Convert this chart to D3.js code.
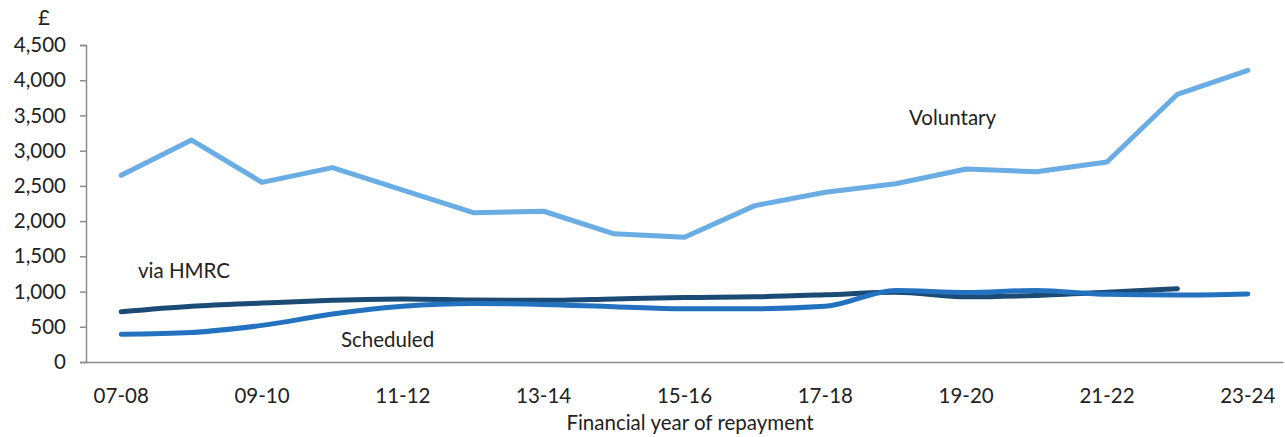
<!DOCTYPE html>
<html>
<head>
<meta charset="utf-8">
<script src="https://cdn.jsdelivr.net/npm/d3@7"></script>
<style>
  html, body { margin: 0; padding: 0; background: #fff; }
  svg { display: block; font-family: "Lato", "Open Sans", sans-serif; }
</style>
</head>
<body>
<svg id="chart" width="1285" height="437"></svg>
<script>
// Financial years of repayment
const years = ["07-08","08-09","09-10","10-11","11-12","12-13","13-14","14-15","15-16",
               "16-17","17-18","18-19","19-20","20-21","21-22","22-23","23-24"];

// Average repayment (£) by route
const voluntary = [2650, 3150, 2550, 2760, 2440, 2120, 2140, 1820, 1770,
                   2220, 2410, 2530, 2740, 2700, 2840, 3800, 4140];
const scheduled = [395, 420, 520, 680, 790, 830, 818, 785, 757,
                   757, 790, 1016, 985, 1016, 960, 950, 966];
const viaHMRC   = [712, 790, 836, 875, 895, 880, 875, 895, 915,
                   925, 954, 990, 925, 945, 990, 1040, null];

const yTicks = [0, 500, 1000, 1500, 2000, 2500, 3000, 3500, 4000, 4500];
const xLabelYears = years.filter((d, i) => i % 2 === 0);

const svg = d3.select("#chart");
const margin = { left: 86, right: 2, top: 45, bottom: 75 };
const W = 1285, H = 437;
const FS = 20.5;

const x = d3.scaleBand().domain(years).range([margin.left, W - margin.right]);
const y = d3.scaleLinear().domain([0, 4500]).range([H - margin.bottom, margin.top]);
const cx = d => x(d) + x.bandwidth() / 2;

// Y axis
const yAxis = svg.append("g")
  .attr("transform", `translate(${margin.left},0)`)
  .call(d3.axisLeft(y).tickValues(yTicks).tickSize(6).tickPadding(14)
        .tickFormat(d3.format(",")));
yAxis.selectAll("line, path").attr("stroke", "#8c8c8c").attr("stroke-width", 1.5);
yAxis.selectAll("text").attr("font-size", FS).attr("fill", "#222")
  .attr("font-family", "Lato, sans-serif");

// X axis (no tick marks, alternate labels)
const xAxis = svg.append("g")
  .attr("transform", `translate(0,${y(0)})`)
  .call(d3.axisBottom(x).tickValues(xLabelYears).tickSize(0).tickPadding(26));
xAxis.select("path").attr("stroke", "#8c8c8c").attr("stroke-width", 1.5);
xAxis.selectAll("text").attr("font-size", FS).attr("fill", "#222")
  .attr("font-family", "Lato, sans-serif");

// Unit label
svg.append("text").attr("x", 44).attr("y", 25).attr("text-anchor", "middle")
  .attr("font-size", FS).attr("fill", "#222").text("£");

// X axis title
svg.append("text").attr("x", 690).attr("y", 430)
  .attr("text-anchor", "middle").attr("font-size", FS).attr("fill", "#222")
  .text("Financial year of repayment");

// Series lines
const series = [
  { name: "Voluntary", values: voluntary, color: "#6aade4", curve: d3.curveLinear },
  { name: "via HMRC",  values: viaHMRC,   color: "#1b4a75", curve: d3.curveMonotoneX },
  { name: "Scheduled", values: scheduled, color: "#2372c0", curve: d3.curveMonotoneX }
];

series.forEach(s => {
  const line = d3.line()
    .defined(d => d.v != null)
    .x(d => cx(d.year))
    .y(d => y(d.v))
    .curve(s.curve);
  svg.append("path")
    .datum(years.map((yr, i) => ({ year: yr, v: s.values[i] })))
    .attr("fill", "none")
    .attr("stroke", s.color)
    .attr("stroke-width", 5)
    .attr("stroke-linecap", "round")
    .attr("stroke-linejoin", "round")
    .attr("d", line);
});

// Series labels
const labels = [
  { text: "Voluntary", x: 909, y: 125 },
  { text: "via HMRC",  x: 138, y: 278 },
  { text: "Scheduled", x: 341, y: 347 }
];
svg.selectAll("text.series-label").data(labels).enter().append("text")
  .attr("class", "series-label")
  .attr("x", d => d.x).attr("y", d => d.y)
  .attr("font-size", FS).attr("fill", "#222")
  .text(d => d.text);
</script>
</body>
</html>
